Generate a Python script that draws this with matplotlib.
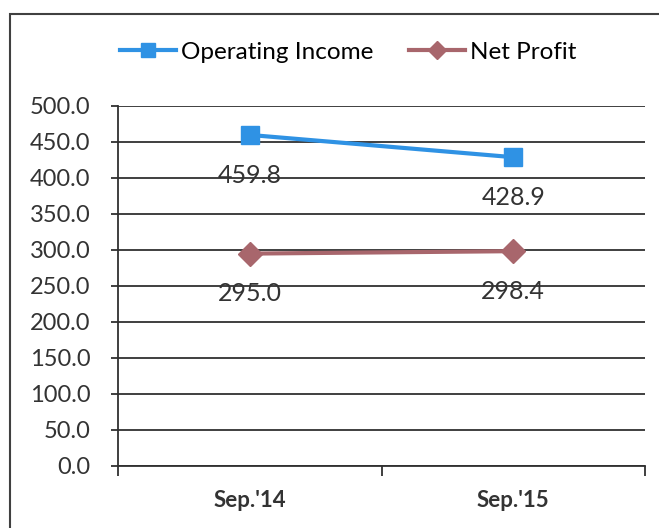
import matplotlib.pyplot as plt
from matplotlib.patches import Rectangle

periods = ["Sep.'14", "Sep.'15"]
operating_income = [459.8, 428.9]
net_profit = [295.0, 298.4]
y_ticks = [0, 50, 100, 150, 200, 250, 300, 350, 400, 450, 500]

plt.rcParams["font.family"] = ["Lato", "DejaVu Sans"]

fig = plt.figure(figsize=(6.59, 5.28), dpi=100)
ax = fig.add_axes([118 / 659, 1 - 466 / 528, (645 - 118) / 659, (466 - 106) / 528])

x = list(range(len(periods)))
blue = "#2F92E4"
red = "#A8666C"
txt = "#333333"

ax.plot(x, operating_income, color=blue, lw=3, marker="s", ms=13,
        label="Operating Income", zorder=3)
ax.plot(x, net_profit, color=red, lw=3, marker="D", ms=12,
        label="Net Profit", zorder=3)

for xi, v in zip(x, operating_income):
    ax.annotate(f"{v:.1f}", (xi, v), xytext=(0, -29), textcoords="offset points",
                ha="center", va="center", fontsize=18, color=txt)
for xi, v in zip(x, net_profit):
    ax.annotate(f"{v:.1f}", (xi, v), xytext=(0, -29), textcoords="offset points",
                ha="center", va="center", fontsize=18, color=txt)

ax.set_xlim(-0.5, 1.5)
ax.set_ylim(0, 500)
ax.set_yticks(y_ticks)
ax.set_yticklabels([f"{t:.1f}" for t in y_ticks], fontsize=17, color=txt)
ax.yaxis.grid(True, color="#303030", lw=1.3)
ax.set_axisbelow(True)

ax.set_xticks(x)
ax.set_xticklabels(periods, fontsize=16, fontweight="bold", color=txt)
ax.tick_params(axis="x", length=0, pad=17)
ax.set_xticks([-0.5, 0.5, 1.5], minor=True)
ax.tick_params(axis="x", which="minor", length=7, width=1.3, color="#303030")
ax.tick_params(axis="y", length=5, width=1.3, color="#303030", pad=15)

for s in ["top", "right"]:
    ax.spines[s].set_visible(False)
ax.spines["left"].set_color("#303030")
ax.spines["left"].set_linewidth(1.3)
ax.spines["bottom"].set_color("#303030")
ax.spines["bottom"].set_linewidth(1.3)

fig.legend(loc="center left", bbox_to_anchor=(98 / 659, 1 - 52 / 528), ncol=2,
           frameon=False, fontsize=17.5, handlelength=2.3, columnspacing=1.5,
           handletextpad=0.2, markerscale=0.75)

fig.patches.append(Rectangle((10 / 659, -0.05), 1.1, 1 - 14 / 528 + 0.05,
                             transform=fig.transFigure, fill=False,
                             edgecolor="#404040", lw=1.5))

fig.savefig("out.png", dpi=100)
